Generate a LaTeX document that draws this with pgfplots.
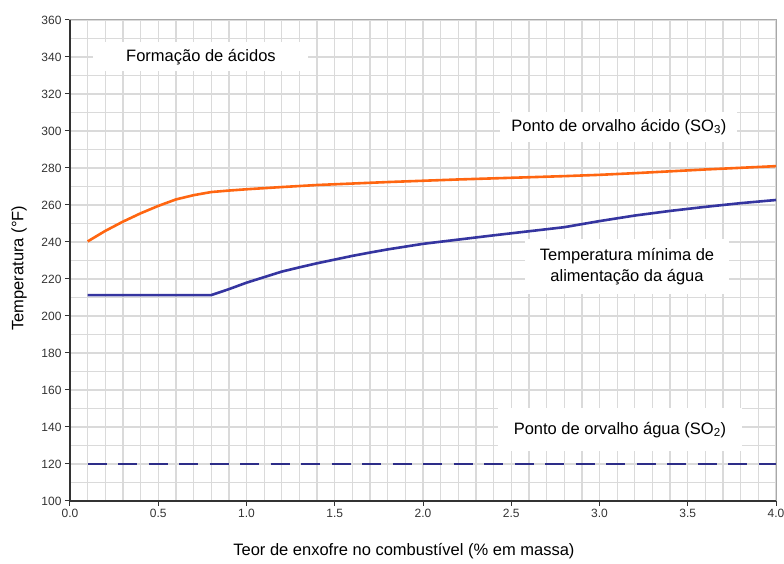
\documentclass[border=0pt]{standalone}
\usepackage{pgfplots}
\pgfplotsset{compat=1.18}
\usepackage{fontspec}
\setmainfont{Liberation Sans}

\definecolor{acido}{HTML}{FF6611}
\definecolor{minima}{HTML}{3535A0}
\definecolor{gridc}{HTML}{DADADA}
\definecolor{boxc}{HTML}{A8A8A8}
\definecolor{tickc}{HTML}{333333}

\begin{document}
\begin{tikzpicture}
\useasboundingbox (-70pt,-63pt) rectangle (714pt,501pt);
  \begin{axis}[
    at={(0,0)}, anchor=south west,
    scale only axis,
    width=706pt, height=481pt,
    xmin=0, xmax=4, ymin=100, ymax=360,
    xtick={0,0.5,...,4}, ytick={100,120,...,360},
    minor x tick num=4, minor y tick num=1,
    grid=both,
    major grid style={draw=gridc, line width=1.3pt},
    minor grid style={draw=gridc, line width=1.3pt},
    axis line style={boxc, line width=1pt},
    tick pos=left, tick align=outside,
    major tick length=5pt, minor tick length=0pt,
    major tick style={color=tickc, line width=1pt},
    every tick label/.append style={font=\fontsize{12}{14}\selectfont, text=tickc},
    /pgf/number format/assume math mode=true,
    xticklabel style={/pgf/number format/.cd, fixed, fixed zerofill, precision=1},
    yticklabel style={/pgf/number format/.cd, fixed, precision=0},
    xlabel={Teor de enxofre no combustível (\% em massa)},
    ylabel={Temperatura (°F)},
    label style={font=\fontsize{16.5}{19}\selectfont},
    xlabel style={at={(axis description cs:0.473,-0.104)}, anchor=center},
    ylabel style={at={(axis description cs:-0.0722,0.484)}, anchor=center},
    clip=false,
  ]
  % ponto de orvalho acido (SO3)
  \addplot[acido, line width=2.6pt] coordinates {
    (0.1,240.3) (0.2,246) (0.3,251) (0.4,255.5) (0.5,259.5) (0.6,263)
    (0.7,265.3) (0.8,267) (0.9,267.8) (1.0,268.5) (1.2,269.7) (1.4,270.8)
    (1.6,271.6) (1.8,272.4) (2.0,273.1) (2.2,273.8) (2.4,274.4) (2.6,275)
    (2.8,275.6) (3.0,276.3) (3.2,277.2) (3.4,278.2) (3.6,279.2) (3.8,280.1)
    (4.0,281)};
  % temperatura minima de alimentacao
  \addplot[minima, line width=2.6pt] coordinates {
    (0.1,211.3) (0.8,211.3) (0.9,214.5) (1.0,218) (1.1,221) (1.2,224)
    (1.3,226.3) (1.4,228.5) (1.5,230.5) (1.6,232.5) (1.7,234.3) (1.8,236)
    (1.9,237.5) (2.0,239) (2.2,241.3) (2.4,243.6) (2.6,245.8) (2.8,248)
    (3.0,251.3) (3.2,254.3) (3.4,256.8) (3.6,259) (3.8,261) (4.0,262.7)};
  % ponto de orvalho agua (SO2)
  \addplot[minima!85!black, line width=2.4pt, dash pattern=on 19pt off 11.5pt] coordinates {
    (0.1,120) (4.0,120)};

  \draw[tickc, line width=1.4pt] (rel axis cs:0,1) -- (rel axis cs:0,0) -- (rel axis cs:1,0);

  \begin{scope}[every node/.style={fill=white, inner sep=0pt, align=center,
      font=\fontsize{16.5}{21}\selectfont}]
    \node[minimum width=215pt, minimum height=29pt] at (axis cs:0.742,340) {Formação de ácidos};
    \node[minimum width=237pt, minimum height=30pt] at (axis cs:3.11,302.2) {Ponto de orvalho ácido (SO\textsubscript{3})};
    \node[minimum width=204pt, minimum height=55pt] at (axis cs:3.156,226.5) {Temperatura mínima de\\alimentação da água};
    \node[minimum width=244pt, minimum height=43pt] at (axis cs:3.116,138.4) {Ponto de orvalho água (SO\textsubscript{2})};
  \end{scope}
  \end{axis}
\end{tikzpicture}
\end{document}
